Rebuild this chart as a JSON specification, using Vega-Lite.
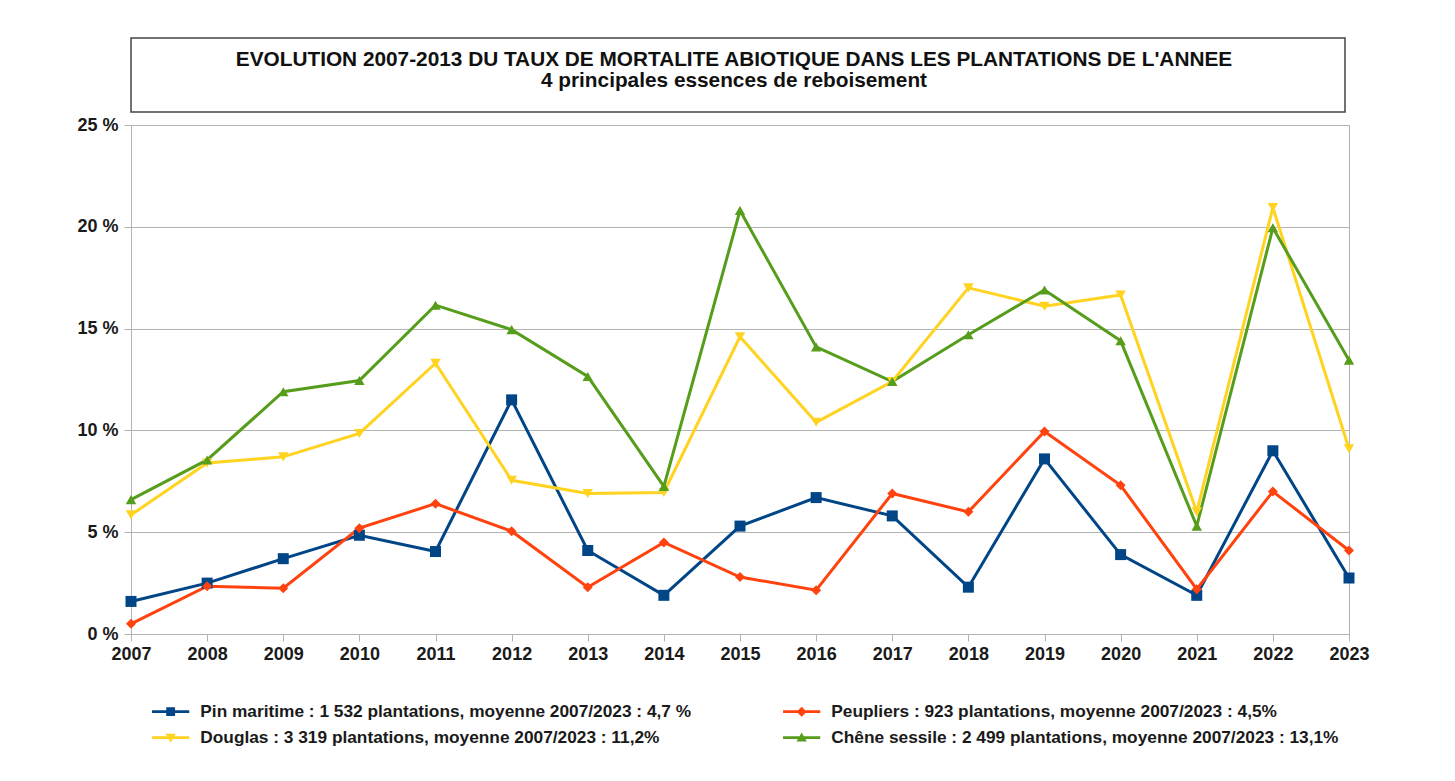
{
  "$schema": "https://vega.github.io/schema/vega-lite/v6.json",
  "background": "#ffffff",
  "padding": {"left": 76, "top": 37, "right": 5, "bottom": 5},
  "bounds": "flush",
  "spacing": 13,
  "config": {
    "font": "Liberation Sans",
    "axis": {
      "labelFont": "Liberation Sans",
      "labelFontWeight": "bold",
      "labelFontSize": 18,
      "labelColor": "#1a1a1a",
      "domainColor": "#b3b3b3",
      "tickColor": "#b3b3b3",
      "gridColor": "#b3b3b3",
      "tickSize": 7,
      "labelFlush": false,
      "labelOverlap": false,
      "title": null
    }
  },
  "vconcat": [
    {
      "width": 1214,
      "height": 74,
      "view": {"stroke": "#444444", "strokeWidth": 1.5},
      "data": {"values": [{}]},
      "mark": {
        "type": "text",
        "font": "Liberation Sans",
        "fontWeight": "bold",
        "fontSize": 20.8,
        "lineHeight": 21,
        "align": "center",
        "baseline": "middle",
        "dx": -4,
        "dy": -15,
        "color": "#111111"
      },
      "encoding": {
        "text": {
          "value": [
            "EVOLUTION 2007-2013  DU TAUX DE MORTALITE ABIOTIQUE DANS LES PLANTATIONS DE L'ANNEE",
            "4 principales essences de reboisement"
          ]
        }
      }
    },
    {
      "width": 1218,
      "height": 509,
      "view": {"stroke": "#b3b3b3"},
      "data": {
        "values": [
          {"serie": "Pin maritime", "annee": 2007, "taux": 1.6},
          {"serie": "Pin maritime", "annee": 2008, "taux": 2.5},
          {"serie": "Pin maritime", "annee": 2009, "taux": 3.7},
          {"serie": "Pin maritime", "annee": 2010, "taux": 4.85},
          {"serie": "Pin maritime", "annee": 2011, "taux": 4.05},
          {"serie": "Pin maritime", "annee": 2012, "taux": 11.5},
          {"serie": "Pin maritime", "annee": 2013, "taux": 4.1},
          {"serie": "Pin maritime", "annee": 2014, "taux": 1.9},
          {"serie": "Pin maritime", "annee": 2015, "taux": 5.3},
          {"serie": "Pin maritime", "annee": 2016, "taux": 6.7},
          {"serie": "Pin maritime", "annee": 2017, "taux": 5.8},
          {"serie": "Pin maritime", "annee": 2018, "taux": 2.3},
          {"serie": "Pin maritime", "annee": 2019, "taux": 8.6},
          {"serie": "Pin maritime", "annee": 2020, "taux": 3.9},
          {"serie": "Pin maritime", "annee": 2021, "taux": 1.9},
          {"serie": "Pin maritime", "annee": 2022, "taux": 9.0},
          {"serie": "Pin maritime", "annee": 2023, "taux": 2.75},
          {"serie": "Peupliers", "annee": 2007, "taux": 0.5},
          {"serie": "Peupliers", "annee": 2008, "taux": 2.35},
          {"serie": "Peupliers", "annee": 2009, "taux": 2.25},
          {"serie": "Peupliers", "annee": 2010, "taux": 5.2},
          {"serie": "Peupliers", "annee": 2011, "taux": 6.4},
          {"serie": "Peupliers", "annee": 2012, "taux": 5.05},
          {"serie": "Peupliers", "annee": 2013, "taux": 2.3},
          {"serie": "Peupliers", "annee": 2014, "taux": 4.5},
          {"serie": "Peupliers", "annee": 2015, "taux": 2.8},
          {"serie": "Peupliers", "annee": 2016, "taux": 2.15},
          {"serie": "Peupliers", "annee": 2017, "taux": 6.9},
          {"serie": "Peupliers", "annee": 2018, "taux": 6.0},
          {"serie": "Peupliers", "annee": 2019, "taux": 9.95},
          {"serie": "Peupliers", "annee": 2020, "taux": 7.3},
          {"serie": "Peupliers", "annee": 2021, "taux": 2.2},
          {"serie": "Peupliers", "annee": 2022, "taux": 7.0},
          {"serie": "Peupliers", "annee": 2023, "taux": 4.1},
          {"serie": "Douglas", "annee": 2007, "taux": 5.85},
          {"serie": "Douglas", "annee": 2008, "taux": 8.4},
          {"serie": "Douglas", "annee": 2009, "taux": 8.7},
          {"serie": "Douglas", "annee": 2010, "taux": 9.85},
          {"serie": "Douglas", "annee": 2011, "taux": 13.3},
          {"serie": "Douglas", "annee": 2012, "taux": 7.55},
          {"serie": "Douglas", "annee": 2013, "taux": 6.9},
          {"serie": "Douglas", "annee": 2014, "taux": 6.95},
          {"serie": "Douglas", "annee": 2015, "taux": 14.6},
          {"serie": "Douglas", "annee": 2016, "taux": 10.4},
          {"serie": "Douglas", "annee": 2017, "taux": 12.4},
          {"serie": "Douglas", "annee": 2018, "taux": 17.0},
          {"serie": "Douglas", "annee": 2019, "taux": 16.1},
          {"serie": "Douglas", "annee": 2020, "taux": 16.65},
          {"serie": "Douglas", "annee": 2021, "taux": 6.0},
          {"serie": "Douglas", "annee": 2022, "taux": 20.95},
          {"serie": "Douglas", "annee": 2023, "taux": 9.1},
          {"serie": "Chêne sessile", "annee": 2007, "taux": 6.6},
          {"serie": "Chêne sessile", "annee": 2008, "taux": 8.55},
          {"serie": "Chêne sessile", "annee": 2009, "taux": 11.9},
          {"serie": "Chêne sessile", "annee": 2010, "taux": 12.45},
          {"serie": "Chêne sessile", "annee": 2011, "taux": 16.15},
          {"serie": "Chêne sessile", "annee": 2012, "taux": 14.95},
          {"serie": "Chêne sessile", "annee": 2013, "taux": 12.65},
          {"serie": "Chêne sessile", "annee": 2014, "taux": 7.25},
          {"serie": "Chêne sessile", "annee": 2015, "taux": 20.8},
          {"serie": "Chêne sessile", "annee": 2016, "taux": 14.1},
          {"serie": "Chêne sessile", "annee": 2017, "taux": 12.4},
          {"serie": "Chêne sessile", "annee": 2018, "taux": 14.7},
          {"serie": "Chêne sessile", "annee": 2019, "taux": 16.9},
          {"serie": "Chêne sessile", "annee": 2020, "taux": 14.4},
          {"serie": "Chêne sessile", "annee": 2021, "taux": 5.3},
          {"serie": "Chêne sessile", "annee": 2022, "taux": 19.95},
          {"serie": "Chêne sessile", "annee": 2023, "taux": 13.45}
        ]
      },
      "encoding": {
        "x": {
          "field": "annee",
          "type": "quantitative",
          "scale": {"domain": [2007, 2023], "nice": false, "zero": false},
          "axis": {
            "values": [2007, 2008, 2009, 2010, 2011, 2012, 2013, 2014, 2015, 2016, 2017, 2018, 2019, 2020, 2021, 2022, 2023],
            "format": "d",
            "grid": false,
            "labelPadding": 4
          }
        },
        "y": {
          "field": "taux",
          "type": "quantitative",
          "scale": {"domain": [0, 25], "nice": false},
          "axis": {
            "values": [0, 5, 10, 15, 20, 25],
            "labelExpr": "datum.value + ' %'",
            "grid": true,
            "labelPadding": 6
          }
        },
        "color": {
          "field": "serie",
          "type": "nominal",
          "scale": {
            "domain": ["Pin maritime", "Peupliers", "Douglas", "Chêne sessile"],
            "range": ["#004586", "#ff420e", "#ffd320", "#579d1c"]
          },
          "legend": {
            "orient": "none",
            "direction": "horizontal",
            "legendX": 18,
            "legendY": 665,
            "columns": 2,
            "padding": 0,
            "title": null,
            "labelFont": "Liberation Sans",
            "labelFontWeight": "bold",
            "labelFontSize": 17.3,
            "labelColor": "#1a1a1a",
            "labelLimit": 0,
            "labelOffset": 34,
            "columnPadding": 88,
            "rowPadding": 8,
            "symbolSize": 64,
            "symbolOpacity": 1,
            "symbolStrokeWidth": 0,
            "labelExpr": "datum.label === 'Pin maritime' ? 'Pin maritime : 1 532 plantations, moyenne 2007/2023 : 4,7 %' : datum.label === 'Peupliers' ? 'Peupliers : 923 plantations, moyenne 2007/2023 : 4,5%' : datum.label === 'Douglas' ? 'Douglas : 3 319 plantations, moyenne 2007/2023 : 11,2%' : 'Chêne sessile :  2 499 plantations, moyenne 2007/2023 : 13,1%'"
          }
        }
      },
      "layer": [
        {"mark": {"type": "line", "strokeWidth": 3}},
        {
          "transform": [{"filter": "datum.serie === 'Pin maritime'"}],
          "mark": {"type": "point", "filled": true, "opacity": 1, "size": 121, "shape": "square"}
        },
        {
          "transform": [{"filter": "datum.serie === 'Peupliers'"}],
          "mark": {"type": "point", "filled": true, "opacity": 1, "size": 100, "shape": "diamond"}
        },
        {
          "transform": [{"filter": "datum.serie === 'Douglas'"}],
          "mark": {"type": "point", "filled": true, "opacity": 1, "size": 110, "shape": "triangle-down"}
        },
        {
          "transform": [{"filter": "datum.serie === 'Chêne sessile'"}],
          "mark": {"type": "point", "filled": true, "opacity": 1, "size": 110, "shape": "triangle-up"}
        },
        {
          "transform": [{"filter": "false"}],
          "mark": {"type": "point", "filled": true, "opacity": 1},
          "encoding": {
            "shape": {
              "field": "serie",
              "type": "nominal",
              "scale": {
                "domain": ["Pin maritime", "Peupliers", "Douglas", "Chêne sessile"],
                "range": [
                  "M-1.4,-0.35H7.9V0.35H-1.4ZM2.15,-1.1H4.35V1.1H2.15Z",
                  "M-1.4,-0.35H7.9V0.35H-1.4ZM3.25,-1.25L4.5,0L3.25,1.25L2,0Z",
                  "M-1.4,-0.35H7.9V0.35H-1.4ZM1.95,-0.95H4.55L3.25,1.3Z",
                  "M-1.4,-0.35H7.9V0.35H-1.4ZM4.55,0.95H1.95L3.25,-1.3Z"
                ]
              }
            }
          }
        }
      ]
    }
  ]
}
